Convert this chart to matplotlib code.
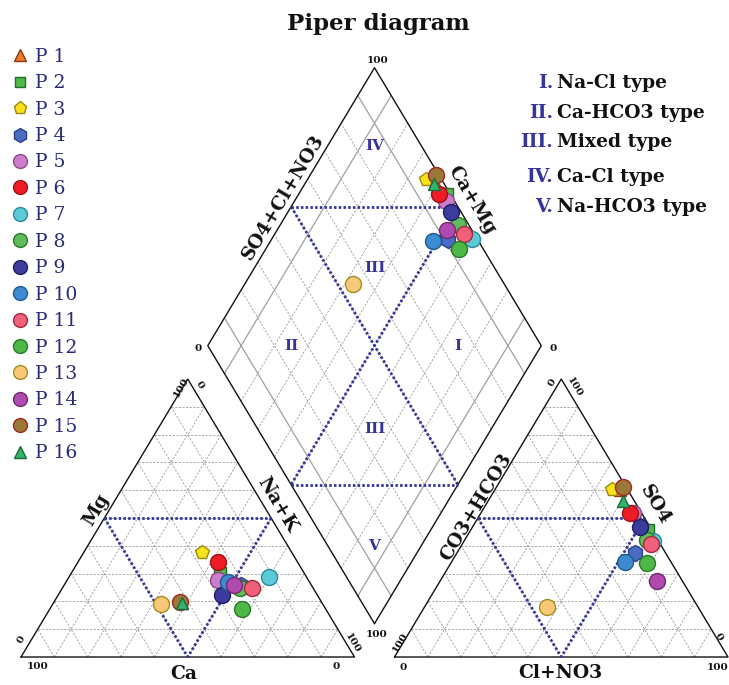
import numpy as np
import matplotlib
matplotlib.use("Agg")
import matplotlib.pyplot as plt

# ---------------------------------------------------------------- data
samples = ["P 1", "P 2", "P 3", "P 4", "P 5", "P 6", "P 7", "P 8",
           "P 9", "P 10", "P 11", "P 12", "P 13", "P 14", "P 15", "P 16"]

# cations, % meq/L
mg = np.array([19.5, 30.1, 37.9, 26.0, 27.7, 34.1, 28.9, 24.7,
               22.3, 27.1, 24.7, 17.2, 19.0, 25.9, 19.7, 19.3])
na_k = np.array([38.5, 44.6, 35.4, 53.0, 45.3, 42.1, 60.0, 53.3,
                 49.0, 48.5, 56.8, 57.8, 32.4, 51.0, 37.8, 38.7])
ca = 100.0 - mg - na_k

# anions, % meq/L
so4 = np.array([60.0, 45.7, 60.3, 37.5, 51.7, 51.9, 41.8, 42.1,
                46.7, 34.3, 40.6, 33.7, 18.1, 27.4, 61.0, 56.2])
cl_no3 = np.array([37.5, 53.3, 35.0, 53.4, 45.8, 44.7, 56.7, 54.6,
                   50.3, 52.0, 56.5, 58.9, 36.6, 65.1, 38.1, 40.5])
co3_hco3 = 100.0 - so4 - cl_no3

# marker styling per sample
shapes = ["^", "s", "p", "h", "o", "o", "o", "o",
          "o", "o", "o", "o", "o", "o", "o", "^"]
faces = ["#F07A30", "#50B848", "#F8E21A", "#4A6CC4", "#CC7DCC", "#EE1C25",
         "#5CCAD9", "#60BB5A", "#3C3C9C", "#3D8BD0", "#F0607A", "#4DB848",
         "#F8C878", "#B04AB0", "#9A7838", "#33B36B"]
edges = ["#8B3A10", "#1E6B2A", "#9C8A10", "#2A3F88", "#8A4A8A", "#A01018",
         "#2A8A9A", "#2A7A2A", "#1E1E60", "#1E5A90", "#A02A40", "#2A7A25",
         "#A09020", "#702A70", "#A02820", "#1A6A3A"]
plot_sizes = [9, 8, 10, 11.5, 11.5, 11.5, 11.5, 11.5, 11.5, 11.5, 11.5, 11.5,
              11.5, 11.5, 11.5, 9]
legend_sizes = [8.5, 7, 9.5, 10, 10, 10, 10, 10, 10, 10, 10, 10, 10, 10, 10, 8.5]

water_types = [("I.", "Na-Cl type"), ("II.", "Ca-HCO3 type"), ("III.", "Mixed type"),
               ("IV.", "Ca-Cl type"), ("V.", "Na-HCO3 type")]

# ---------------------------------------------------------------- geometry
GAP = 12.0
H = np.sqrt(3) / 2
NAVY = "#34349C"
GRID = "#9a9a9a"
SERIF = "DejaVu Serif"


def cation_xy(ca_, mg_, nak_):
    return nak_ + mg_ / 2.0, mg_ * H


def anion_xy(hco3_, so4_, cl_):
    return 100 + GAP + cl_ + so4_ / 2.0, so4_ * H


def diamond_xy(camg, so4cl):
    bx, by = 100 + GAP / 2.0, GAP * H
    return bx + 0.5 * (so4cl - camg), by + H * (so4cl + camg)


W, HGT = 729, 685
fig = plt.figure(figsize=(W / 100, HGT / 100), dpi=100)
ax = fig.add_axes([0, 0, 1, 1])
ax.set_xlim(-6.30, 212.3)
ax.set_ylim(-8.72, 204.7)
ax.axis("off")


def seg(p, q, **kw):
    ax.plot([p[0], q[0]], [p[1], q[1]], **kw)


dash_kw = dict(color=GRID, lw=0.6, dashes=(2.6, 1.8), zorder=1)
solid_kw = dict(color="#a0a0a0", lw=0.9, zorder=1)
edge_kw = dict(color="#111111", lw=1.0, zorder=2, solid_capstyle="round")
blue_kw = dict(color=NAVY, lw=2.0, dashes=(0.9, 0.8), zorder=3)

ticks = np.arange(10, 100, 10)

# cation triangle grid
for t in ticks:
    seg(cation_xy(100 - t, t, 0), cation_xy(0, t, 100 - t), **dash_kw)
    seg(cation_xy(100 - t, 0, t), cation_xy(0, 100 - t, t), **dash_kw)
    seg(cation_xy(t, 0, 100 - t), cation_xy(t, 100 - t, 0), **dash_kw)
# anion triangle grid
for t in ticks:
    seg(anion_xy(100 - t, t, 0), anion_xy(0, t, 100 - t), **dash_kw)
    seg(anion_xy(100 - t, 0, t), anion_xy(0, 100 - t, t), **dash_kw)
    seg(anion_xy(t, 0, 100 - t), anion_xy(t, 100 - t, 0), **dash_kw)
# diamond grid
for t in ticks:
    kw = solid_kw if t in (10, 90) else dash_kw
    seg(diamond_xy(t, 0), diamond_xy(t, 100), **kw)
    seg(diamond_xy(0, t), diamond_xy(100, t), **kw)

# outlines
c_bl, c_br, c_top = cation_xy(100, 0, 0), cation_xy(0, 0, 100), cation_xy(0, 100, 0)
a_bl, a_br, a_top = anion_xy(100, 0, 0), anion_xy(0, 0, 100), anion_xy(0, 100, 0)
d_bot, d_left, d_top, d_right = (diamond_xy(0, 0), diamond_xy(100, 0),
                                 diamond_xy(100, 100), diamond_xy(0, 100))
for poly in ([c_bl, c_br, c_top, c_bl], [a_bl, a_br, a_top, a_bl],
             [d_bot, d_left, d_top, d_right, d_bot]):
    xs, ys = zip(*poly)
    ax.plot(xs, ys, **edge_kw)

# classification boundaries
m_l, m_r, m_b = cation_xy(50, 50, 0), cation_xy(0, 50, 50), cation_xy(50, 0, 50)
seg(m_l, m_r, **blue_kw); seg(m_l, m_b, **blue_kw); seg(m_r, m_b, **blue_kw)
m_l, m_r, m_b = anion_xy(50, 50, 0), anion_xy(0, 50, 50), anion_xy(50, 0, 50)
seg(m_l, m_r, **blue_kw); seg(m_l, m_b, **blue_kw); seg(m_r, m_b, **blue_kw)
seg(diamond_xy(100, 50), diamond_xy(50, 100), **blue_kw)
seg(diamond_xy(50, 0), diamond_xy(0, 50), **blue_kw)
seg(diamond_xy(100, 50), diamond_xy(0, 50), **blue_kw)
seg(diamond_xy(50, 100), diamond_xy(50, 0), **blue_kw)

# samples
cx, cy = cation_xy(ca, mg, na_k)
axx, axy = anion_xy(co3_hco3, so4, cl_no3)
dx_, dy_ = diamond_xy(ca + mg, so4 + cl_no3)
for i in range(len(samples)):
    style = dict(marker=shapes[i], ms=plot_sizes[i], mfc=faces[i], mec=edges[i],
                 mew=1.0, ls="none", zorder=5 + i)
    ax.plot(cx[i], cy[i], **style)
    ax.plot(axx[i], axy[i], **style)
    ax.plot(dx_[i], dy_[i], **style)

# ---------------------------------------------------------------- labels
fig.canvas.draw()
p0 = ax.transData.transform((0, 0))
p1 = ax.transData.transform((0.5, H))
ANG = np.degrees(np.arctan2(p1[1] - p0[1], p1[0] - p0[0]))


def note(xy, text, dx, dy, rot=0, size=7.5, weight="bold", color="#111111"):
    ax.annotate(text, xy=xy, xytext=(dx, -dy), textcoords="offset pixels",
                ha="center", va="center", rotation=rot, rotation_mode="anchor",
                fontsize=size, fontweight=weight, color=color, family=SERIF,
                zorder=30)


# cation triangle scale numbers
note(c_bl, "100", 16.5, 9)
note(c_br, "0", -18, 9)
note(c_bl, "0", 0.7, -17, ANG)
note(c_top, "100", -7, 8, ANG)
note(c_top, "0", 12, 6, -ANG)
note(c_br, "100", -2, -14, -ANG)
# anion triangle scale numbers
note(a_bl, "0", 8.5, 10)
note(a_br, "100", -10, 10)
note(a_bl, "100", 5.5, -15, ANG)
note(a_top, "0", -8.6, 3.7, ANG)
note(a_top, "100", 12.7, 7.7, -ANG)
note(a_br, "0", -9.7, -20.3, -ANG)
# diamond scale numbers
note(d_top, "100", 3.5, -7.6)
note(d_left, "0", -10, 2.4)
note(d_right, "0", 11.7, 2.4)
note(d_bot, "100", 2.5, 10.4)

# axis titles
AX = 13.5
note(cation_xy(50, 50, 0), "Mg", -7.7, -8, ANG, AX)
note(cation_xy(0, 50, 50), "Na+K", 5.6, -13, -ANG, AX)
note(cation_xy(50, 0, 50), "Ca", -4.4, 17, 0, AX)
note(anion_xy(50, 50, 0), "CO3+HCO3", -1.2, -11.3, ANG, AX)
note(anion_xy(0, 50, 50), "SO4", 10.4, -13, -ANG, AX)
note(anion_xy(50, 0, 50), "Cl+NO3", -1.3, 15.7, 0, AX)
note(diamond_xy(100, 50), "SO4+Cl+NO3", -7.8, -9.9, ANG, AX)
note(diamond_xy(50, 100), "Ca+Mg", 13.8, -6.6, -ANG, AX)

# field numerals inside the diamond
for (a, b), lab in zip([(86, 86), (64, 64), (75, 25), (25, 75), (35, 35), (14, 14)],
                       ["IV", "III", "II", "I", "III", "V"]):
    note(diamond_xy(a, b), lab, 0, 0, 0, 11, "bold", NAVY)


def fpx(x, y):
    return x / W, 1 - y / HGT


# title
fig.text(*fpx(378.5, 30), "Piper diagram", ha="center", va="baseline",
         fontsize=16.5, fontweight="bold", family=SERIF, color="#111111")

# water type key
for (num, desc), base in zip(water_types, [88, 118, 147, 182, 212]):
    fig.text(*fpx(553, base), num, ha="right", va="baseline", fontsize=13.5,
             fontweight="bold", family=SERIF, color=NAVY)
    fig.text(*fpx(557, base), desc, ha="left", va="baseline", fontsize=13.5,
             fontweight="bold", family=SERIF, color="#111111")

# sample key
for i, name in enumerate(samples):
    base = 61.7 + 26.44 * i
    mx, my = fpx(20, base - 6.5)
    ax.plot([mx], [my], transform=fig.transFigure, marker=shapes[i],
            ms=legend_sizes[i], mfc=faces[i], mec=edges[i], mew=1.0,
            ls="none", clip_on=False, zorder=40)
    fig.text(*fpx(35, base), name, ha="left", va="baseline", fontsize=13.5,
             family=SERIF, color="#2B2B7A")

fig.savefig("out.png", dpi=100, facecolor="white")
